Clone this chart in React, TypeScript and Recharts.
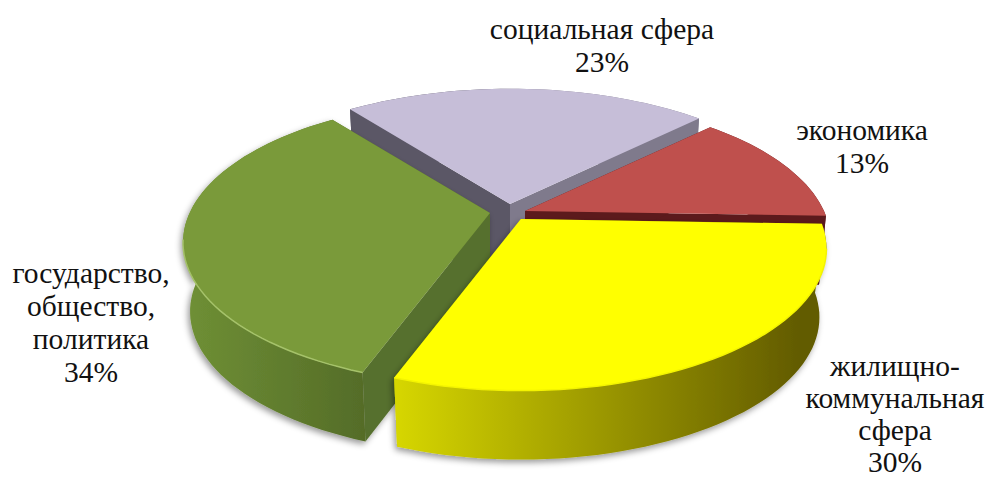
import React from "react";
import { PieChart, Pie } from "recharts";

const categories = ["социальная сфера", "экономика", "жилищно-коммунальная сфера", "государство, общество, политика"];
const values = [23, 13, 30, 34];
const labelLines = [
  ["социальная сфера"],
  ["экономика"],
  ["жилищно-", "коммунальная", "сфера"],
  ["государство,", "общество,", "политика"],
];

const rows = categories.map((name, i) => ({ name, value: values[i], lines: labelLines[i] }));

const K = 0.206;
const SX = 305;
const KY = 139;
const DEPTH = 69;
const SHRINK = 0.977;
const BASE = { x: 505, y: 214 };
const START = 127.6;

type Look = {
  dx: number; dy: number; scale: number; top: string;
  sideFrom: string; sideTo: string; gradFrom: number; gradTo: number;
  firstFace: string; lastFace: string; rimLight: string; shadow: boolean;
};
const looks: Look[] = [
  { dx: 5, dy: -10, scale: 1, top: "#c6bed8", sideFrom: "#5b5766", sideTo: "#7f7a8c", gradFrom: 500, gradTo: 512, firstFace: "#5b5766", lastFace: "#7f7a8c", rimLight: "#d6d0e4", shadow: false },
  { dx: 20, dy: -3, scale: 0.98, top: "#bf504d", sideFrom: "#5c1a1c", sideTo: "#5c1a1c", gradFrom: 520, gradTo: 830, firstFace: "#5c1a1c", lastFace: "#5c1a1c", rimLight: "#bf504d", shadow: false },
  { dx: 16, dy: 5, scale: 0.98, top: "#ffff00", sideFrom: "#d6d600", sideTo: "#625b00", gradFrom: 397, gradTo: 800, firstFace: "#8a8200", lastFace: "#c8c800", rimLight: "#f4f400", shadow: true },
  { dx: -15, dy: -1, scale: 0.985, top: "#7a9a3a", sideFrom: "#6f9035", sideTo: "#546c28", gradFrom: 185, gradTo: 365, firstFace: "#56702e", lastFace: "#56702e", rimLight: "#a5c26a", shadow: true },
];

const labelAnchors = [
  { x: 602, y: 39, lineHeight: 33 },
  { x: 862, y: 140, lineHeight: 33 },
  { x: 895, y: 376, lineHeight: 32 },
  { x: 91, y: 283, lineHeight: 33 },
];

function project(ax: number, ay: number, deg: number, scale: number) {
  const t = (deg * Math.PI) / 180;
  const u = Math.cos(t);
  const v = Math.sin(t);
  const w = 1 + K * v;
  return { x: ax + (u * SX * scale) / w, y: ay - (v * KY * scale) / w };
}
function lower(ax: number, ay: number, p: { x: number; y: number }) {
  return { x: ax + (p.x - ax) * SHRINK, y: p.y + DEPTH };
}
const toD = (ps: { x: number; y: number }[]) =>
  ps.map((p, i) => `${i ? "L" : "M"}${p.x.toFixed(1)} ${p.y.toFixed(1)}`).join(" ");

const makeShape = (layer: number[]) => (props: any) => {
  const name = props.payload?.name ?? props.name;
  const idx = categories.indexOf(name);
  if (!layer.includes(idx)) return <g />;
  const look = looks[idx];
  const ax = props.cx + look.dx;
  const ay = props.cy + look.dy;
  const a0 = props.startAngle;
  const a1 = props.endAngle;
  const n = Math.max(8, Math.ceil(Math.abs(a1 - a0) / 2));
  const arc = Array.from({ length: n + 1 }, (_, i) => project(ax, ay, a0 + ((a1 - a0) * i) / n, look.scale));
  const arcLow = arc.map((p) => lower(ax, ay, p));
  const apex = { x: ax, y: ay };
  const apexLow = { x: ax, y: ay + DEPTH };
  const gid = `side-${idx}`;
  const front = arc.filter((p) => p.y > ay + 25);
  return (
    <g>
      <defs>
        <linearGradient id={gid} gradientUnits="userSpaceOnUse" x1={look.gradFrom} y1={0} x2={look.gradTo} y2={0}>
          <stop offset="0" stopColor={look.sideFrom} />
          <stop offset="1" stopColor={look.sideTo} />
        </linearGradient>
        <filter id={`shadow-${idx}`} x="-10%" y="-10%" width="120%" height="125%">
          <feDropShadow dx={-2} dy={3} stdDeviation={3} floodColor="#000" floodOpacity={0.4} />
        </filter>
      </defs>
      <g filter={look.shadow ? `url(#shadow-${idx})` : undefined}>
        <path d={`${toD([apex, arc[n], arcLow[n], apexLow])} Z`} fill={look.lastFace} />
        <path d={`${toD([apex, arc[0], arcLow[0], apexLow])} Z`} fill={look.firstFace} />
        <path d={`${toD([...arc, ...[...arcLow].reverse()])} Z`} fill={`url(#${gid})`} />
      </g>
      <path d={`${toD([apex, ...arc])} Z`} fill={look.top} />
      {front.length > 1 && <path d={toD(front)} fill="none" stroke={look.rimLight} strokeWidth={1.5} />}
    </g>
  );
};

const renderLabel = (props: any) => {
  const name = props.payload?.name ?? props.name;
  const idx = categories.indexOf(name);
  const anchor = labelAnchors[idx];
  const lines = [...labelLines[idx], `${values[idx]}%`];
  return (
    <text
      key={name}
      x={anchor.x}
      y={anchor.y}
      textAnchor="middle"
      style={{ fontFamily: '"Liberation Serif", "Times New Roman", serif', fontSize: 29.5 }}
      fill="#111"
    >
      {lines.map((l, i) => (
        <tspan key={i} x={anchor.x} y={anchor.y + i * anchor.lineHeight}>
          {l}
        </tspan>
      ))}
    </text>
  );
};

export default function App() {
  return (
    <div style={{ position: "absolute", left: 0, top: 0, width: 987, height: 479, background: "#fff", overflow: "hidden" }}>
      <PieChart width={987} height={479} margin={{ top: 0, right: 0, bottom: 0, left: 0 }}>
        <Pie
          data={rows}
          dataKey="value"
          nameKey="name"
          cx={BASE.x}
          cy={BASE.y}
          innerRadius={0}
          outerRadius={100}
          startAngle={START}
          endAngle={START - 360}
          stroke="none"
          isAnimationActive={false}
          shape={makeShape([0, 1, 3])}
          label={renderLabel}
          labelLine={false}
        />
        <Pie
          data={rows}
          dataKey="value"
          nameKey="name"
          cx={BASE.x}
          cy={BASE.y}
          innerRadius={0}
          outerRadius={100}
          startAngle={START}
          endAngle={START - 360}
          stroke="none"
          isAnimationActive={false}
          shape={makeShape([2])}
          label={false}
          labelLine={false}
        />
      </PieChart>
    </div>
  );
}
